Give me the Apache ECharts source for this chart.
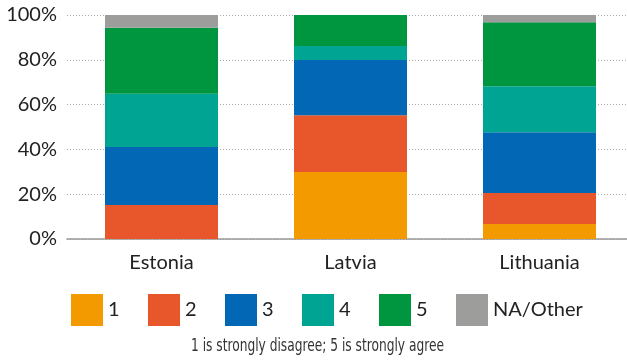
<!DOCTYPE html>
<html>
<head>
<meta charset="utf-8">
<script src="https://cdn.jsdelivr.net/npm/echarts@6/dist/echarts.min.js"></script>
<style>
  html, body { margin: 0; padding: 0; background: #fff; }
  #chart { width: 627px; height: 363px; }
</style>
</head>
<body>
<div id="chart"></div>
<script>
// Countries on the x axis
const countries = ['Estonia', 'Latvia', 'Lithuania'];

// Share of answers (%) per score, one array per answer, ordered as countries
const score1 = [0, 29.9, 6.7];
const score2 = [15.2, 25.4, 13.8];
const score3 = [25.9, 24.6, 27.2];
const score4 = [23.7, 6.3, 20.5];
const score5 = [29.5, 13.8, 28.6];
const naOther = [5.8, 0, 3.2];

const answerNames = ['1', '2', '3', '4', '5', 'NA/Other'];
const answerColors = ['#F39A00', '#E8562C', '#0267B4', '#00A493', '#00953F', '#9D9D9C'];
const answerValues = [score1, score2, score3, score4, score5, naOther];

const yTicks = [0, 20, 40, 60, 80, 100];

const fontMain = 'Lato, "Open Sans", sans-serif';

const chart = echarts.init(document.getElementById('chart'));

// One legend per answer so the entries sit on an even pitch
const legends = answerNames.map((name, i) => ({
  left: 71 + 77 * i,
  top: 294,
  itemWidth: 32,
  itemHeight: 32,
  icon: 'rect',
  selectedMode: false,
  padding: 0,
  textStyle: { fontFamily: fontMain, fontSize: 20, color: '#222' },
  data: [name]
}));

chart.setOption({
  animation: false,
  grid: { left: 67, width: 567, top: 15, bottom: 124, containLabel: false, outerBoundsMode: 'none' },
  graphic: [{
    type: 'text',
    left: 191,
    top: 337,
    scaleX: 0.755,
    style: {
      text: '1 is strongly disagree; 5 is strongly agree',
      fontFamily: '"Liberation Sans Narrow", "DejaVu Sans Condensed", sans-serif',
      fontSize: 18,
      fill: '#333'
    }
  }],
  legend: legends,
  xAxis: {
    type: 'category',
    data: countries,
    axisLine: { lineStyle: { color: '#999', width: 1.5 } },
    axisTick: { show: false },
    axisLabel: {
      fontFamily: fontMain,
      fontSize: 20,
      color: '#222',
      margin: 14
    }
  },
  yAxis: {
    type: 'value',
    min: yTicks[0],
    max: yTicks[yTicks.length - 1],
    interval: 20,
    axisLine: { show: false },
    axisTick: { show: false },
    axisLabel: {
      fontFamily: fontMain,
      fontSize: 20,
      color: '#222',
      margin: 10,
      formatter: v => v + '%'
    },
    splitLine: { lineStyle: { color: '#aaa', type: [1, 2], width: 1 } }
  },
  series: answerNames.map((name, i) => ({
    name: name,
    type: 'bar',
    stack: 'total',
    barWidth: 113,
    itemStyle: { color: answerColors[i] },
    data: answerValues[i]
  }))
});
</script>
</body>
</html>
